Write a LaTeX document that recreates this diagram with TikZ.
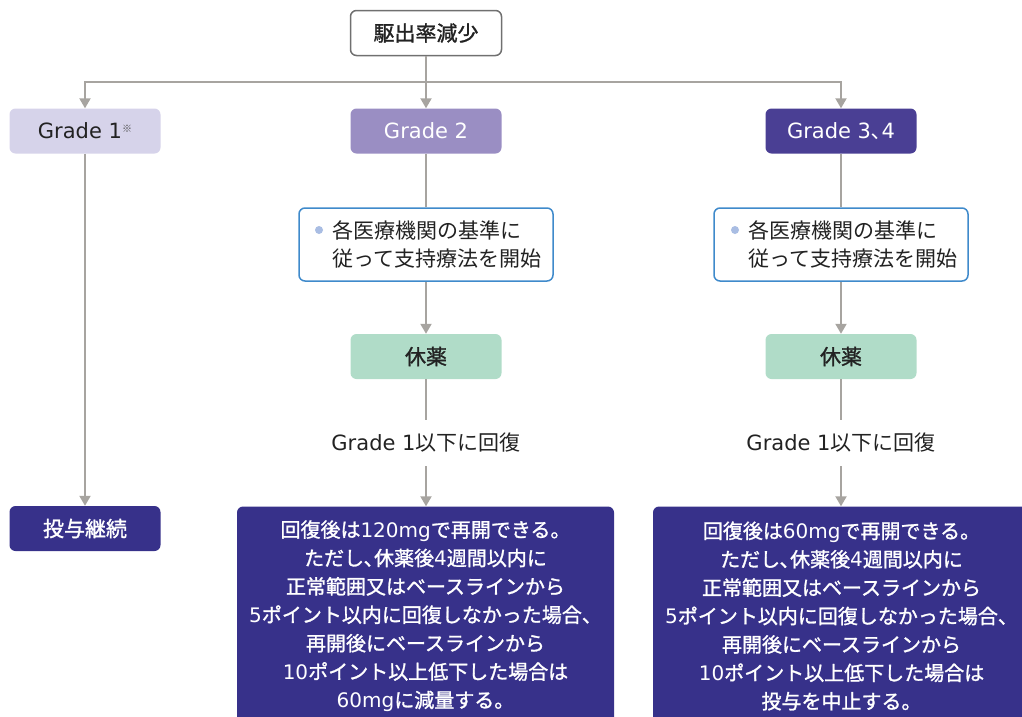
\documentclass[tikz,border=0pt]{standalone}
\usepackage{fontspec}
\setmainfont{Noto Sans CJK JP}
\newfontfamily\latf{DejaVu Sans}
\newfontfamily\medf[FakeBold=1.3]{Noto Sans CJK JP}
\newcommand\ltn[1]{{\latf #1}}
\newcommand\tc{､}
\usetikzlibrary{arrows.meta}
\definecolor{gone}{HTML}{D6D3EA}
\definecolor{gtwo}{HTML}{9A8EC3}
\definecolor{gthree}{HTML}{4A3F94}
\definecolor{dark}{HTML}{37318A}
\definecolor{rest}{HTML}{B0DCC8}
\definecolor{bblue}{HTML}{3F8ACB}
\definecolor{bdot}{HTML}{A9BDE3}
\definecolor{lgray}{HTML}{A7A4A0}
\definecolor{topgray}{HTML}{707070}
\definecolor{ink}{HTML}{222222}
\begin{document}
\begin{tikzpicture}[x=1pt,y=-1pt,
  base/.style={rectangle, rounded corners=6pt, inner sep=0pt, align=center,
    text=ink, font=\fontsize{21}{25}\selectfont},
  gbox/.style={base, minimum width=151pt, minimum height=45pt},
  medbox/.style={gbox, font=\medf\fontsize{21}{25}\selectfont},
  bbox/.style={base, draw=bblue, line width=1.5pt, fill=white, minimum width=254pt, minimum height=73pt},
  btext/.style={inner sep=0pt, align=left, text=ink, font=\fontsize{21}{28}\selectfont},
  bdotst/.style={circle, fill=bdot, inner sep=0pt, minimum size=8pt},
  dbox/.style={base, fill=dark, text=white, minimum width=377pt, minimum height=219pt,
    font=\medf\fontsize{20}{28.4}\selectfont},
  rtext/.style={inner sep=0pt, minimum height=46pt, text=ink, font=\fontsize{21}{25}\selectfont},
  conn/.style={draw=lgray, line width=2pt},
  arr/.style={conn, -{Triangle[length=10pt,width=11pt,fill=lgray]}}
]
\useasboundingbox (0,0) rectangle (1022,716);
\clip (0,0) rectangle (1022,716);

% top
\node[medbox, draw=topgray, line width=1.5pt, fill=white] (top) at (426,33) {駆出率減少};
\coordinate (hl) at (85,82);

% grades
\node[gbox, fill=gone] (g1) at (85,131) {\ltn{Grade 1}\raisebox{6pt}{\color{ink!80}\fontsize{10}{10}\selectfont ※}};
\node[gbox, fill=gtwo, text=white] (g2) at (426,131) {\ltn{Grade 2}};
\node[gbox, fill=gthree, text=white] (g34) at (841,131) {\ltn{Grade 3}\tc\ltn{4}};

% bullet boxes
\node[bbox] (b2) at (426,244.5) {};
\node[bdotst] (b2d) at (319,230) {};
\node[btext, anchor=west] (b2t) at (332,244) {各医療機関の基準に\\従って支持療法を開始};
\node[bbox] (b34) at (841,244.5) {};
\node[bdotst] (b34d) at (735,230) {};
\node[btext, anchor=west] (b34t) at (748,244) {各医療機関の基準に\\従って支持療法を開始};

% rest
\node[medbox, fill=rest] (k2) at (426,356.5) {休薬};
\node[medbox, fill=rest] (k34) at (841,356.5) {休薬};

% recovery text
\node[rtext] (r2) at (426,443) {\ltn{Grade 1}以下に回復};
\node[rtext] (r34) at (841,443) {\ltn{Grade 1}以下に回復};

% results
\node[medbox, fill=dark, text=white] (cont) at (85,528.5) {投与継続};
\node[dbox] (d2) at (425.5,616) {回復後は\ltn{120mg}で再開できる。\\ただし\tc 休薬後\ltn{4}週間以内に\\正常範囲又はベースラインから\\\ltn{5}ポイント以内に回復しなかった場合、\\再開後にベースラインから\\\ltn{10}ポイント以上低下した場合は\\\ltn{60mg}に減量する。};
\node[dbox] (d34) at (841.5,616) {回復後は\ltn{60mg}で再開できる。\\ただし\tc 休薬後\ltn{4}週間以内に\\正常範囲又はベースラインから\\\ltn{5}ポイント以内に回復しなかった場合、\\再開後にベースラインから\\\ltn{10}ポイント以上低下した場合は\\投与を中止する。};

% connectors
\draw[arr] (top.south) -- (top.south |- hl) -| (g1.north);
\draw[arr] (top.south |- hl) -| (g34.north);
\draw[arr] (top.south) -- (g2.north);
\draw[arr] (g1.south) -- (cont.north);
\draw[conn] (g2.south) -- (b2.north);
\draw[conn] (g34.south) -- (b34.north);
\draw[arr] (b2.south) -- (k2.north);
\draw[arr] (b34.south) -- (k34.north);
\draw[conn] (k2.south) -- (r2.north);
\draw[conn] (k34.south) -- (r34.north);
\draw[arr] (r2.south) -- (r2.south |- d2.north);
\draw[arr] (r34.south) -- (r34.south |- d34.north);
\end{tikzpicture}
\end{document}
